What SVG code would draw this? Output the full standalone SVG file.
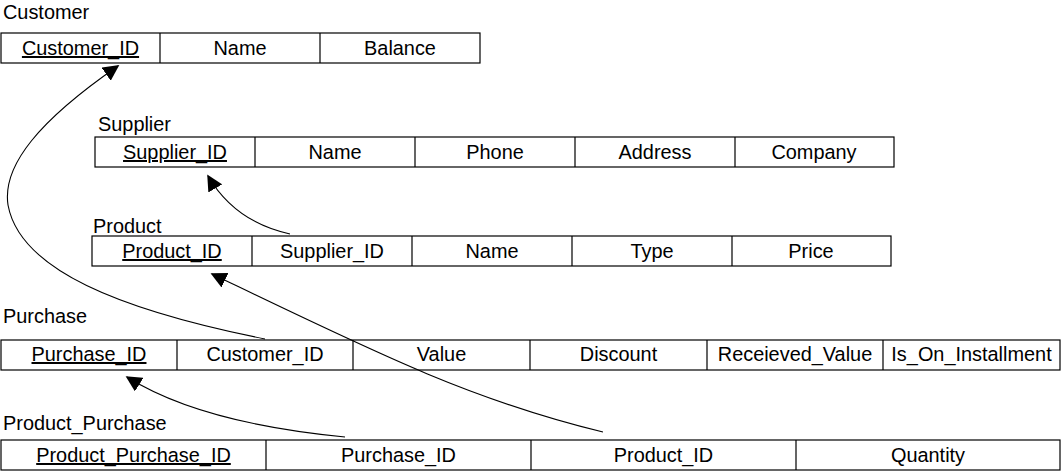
<svg xmlns="http://www.w3.org/2000/svg" width="1061" height="472" viewBox="0 0 1061 472">
<defs>
<style>
text{font-family:"Liberation Sans",Arial,sans-serif;font-size:19.9px;fill:#000}
.c{text-anchor:middle}
.pk{text-decoration:underline}
rect,.sep{fill:none;stroke:#000;stroke-width:1.2}
.conn path{fill:none;stroke:#000;stroke-width:1.1;marker-end:url(#ah)}
</style>
<marker id="ah" viewBox="0 0 10 10" refX="9" refY="5" markerWidth="16" markerHeight="16" markerUnits="userSpaceOnUse" orient="auto">
<path d="M0,0 L10,5 L0,10 Z" fill="#000"/>
</marker>
</defs>
<rect width="1061" height="472" fill="#fff" style="stroke:none"/>

<g id="customer">
<text x="3" y="19">Customer</text>
<rect x="1" y="33" width="479" height="30"/>
<path class="sep" d="M160,33V63M320,33V63"/>
<text class="c pk" x="80.5" y="55">Customer_ID</text>
<text class="c" x="240" y="55">Name</text>
<text class="c" x="400" y="55">Balance</text>
</g>

<g id="supplier">
<text x="98" y="131">Supplier</text>
<rect x="95" y="137" width="799" height="30"/>
<path class="sep" d="M255,137V167M415,137V167M575,137V167M735,137V167"/>
<text class="c pk" x="175" y="159">Supplier_ID</text>
<text class="c" x="335" y="159">Name</text>
<text class="c" x="495" y="159">Phone</text>
<text class="c" x="655" y="159">Address</text>
<text class="c" x="814" y="159">Company</text>
</g>

<g id="product">
<text x="93" y="233">Product</text>
<rect x="92" y="236" width="799" height="30"/>
<path class="sep" d="M252,236V266M412,236V266M572,236V266M732,236V266"/>
<text class="c pk" x="172" y="258">Product_ID</text>
<text class="c" x="332" y="258">Supplier_ID</text>
<text class="c" x="492" y="258">Name</text>
<text class="c" x="652" y="258">Type</text>
<text class="c" x="811" y="258">Price</text>
</g>

<g id="purchase">
<text x="3" y="323">Purchase</text>
<rect x="1" y="340" width="1059" height="30"/>
<path class="sep" d="M177,340V370M353,340V370M530,340V370M707,340V370M883,340V370"/>
<text class="c pk" x="89" y="361">Purchase_ID</text>
<text class="c" x="265" y="361">Customer_ID</text>
<text class="c" x="441.5" y="361">Value</text>
<text class="c" x="618.5" y="361">Discount</text>
<text class="c" x="795" y="361">Receieved_Value</text>
<text class="c" x="971.5" y="361">Is_On_Installment</text>
</g>

<g id="product_purchase">
<text x="3" y="430">Product_Purchase</text>
<rect x="1" y="440" width="1059" height="30"/>
<path class="sep" d="M266,440V470M531,440V470M796,440V470"/>
<text class="c pk" x="133.5" y="462">Product_Purchase_ID</text>
<text class="c" x="398.5" y="462">Purchase_ID</text>
<text class="c" x="663.5" y="462">Product_ID</text>
<text class="c" x="928" y="462">Quantity</text>
</g>

<g id="connectors" class="conn">
<path d="M265,339 C120,310 20,270 8,205 C2,165 40,120 118,66"/>
<path d="M290,234 Q235,222 208,176"/>
<path d="M603,432 C470,400 370,350 212,274"/>
<path d="M345,437 Q200,423 127,377"/>
</g>
</svg>
